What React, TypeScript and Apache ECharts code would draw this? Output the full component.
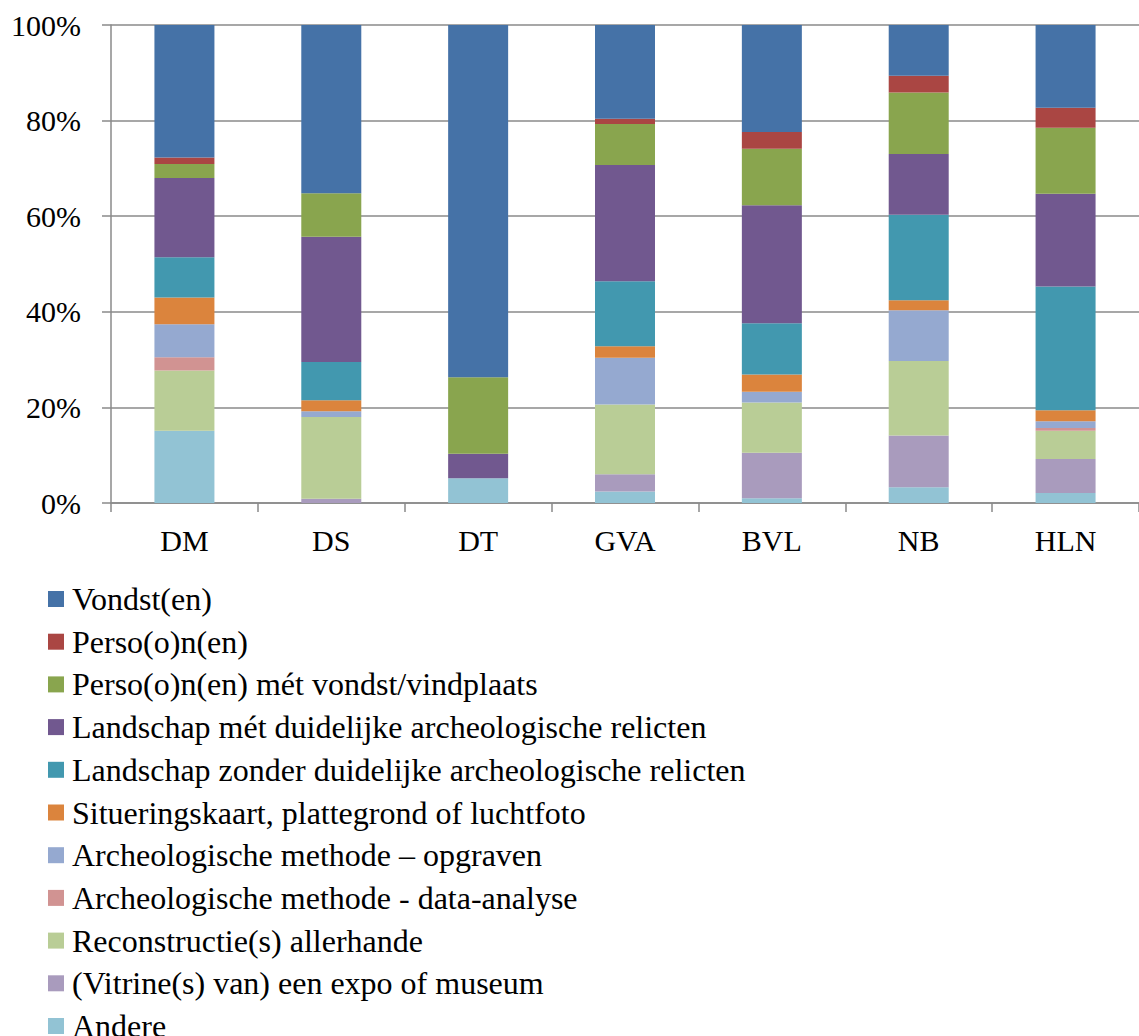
import React, { useEffect, useRef } from "react";
import * as echarts from "echarts";

const categories = ["DM", "DS", "DT", "GVA", "BVL", "NB", "HLN"];

// Stack order: bottom to top
const seriesNames = [
  "Andere",
  "(Vitrine(s) van) een expo of museum",
  "Reconstructie(s) allerhande",
  "Archeologische methode - data-analyse",
  "Archeologische methode – opgraven",
  "Situeringskaart, plattegrond of luchtfoto",
  "Landschap zonder duidelijke archeologische relicten",
  "Landschap mét duidelijke archeologische relicten",
  "Perso(o)n(en) mét vondst/vindplaats",
  "Perso(o)n(en)",
  "Vondst(en)",
];

const seriesColors = [
  "#92C3D4",
  "#A99BBD",
  "#B9CD96",
  "#D19392",
  "#95A9D0",
  "#DB843D",
  "#4298AF",
  "#71588F",
  "#89A54E",
  "#AA4643",
  "#4572A7",
];

const andere = [15.1, 0, 5.2, 2.4, 1.0, 3.3, 2.1];
const vitrine = [0, 0.9, 0, 3.6, 9.5, 10.8, 7.1];
const reconstructie = [12.6, 17.1, 0, 14.6, 10.5, 15.6, 5.9];
const dataAnalyse = [2.8, 0, 0, 0, 0, 0, 0.6];
const opgraven = [6.9, 1.2, 0, 9.8, 2.3, 10.6, 1.4];
const situering = [5.6, 2.3, 0, 2.4, 3.6, 2.1, 2.3];
const landschapZonder = [8.4, 8.0, 0, 13.6, 10.7, 17.9, 25.9];
const landschapMet = [16.6, 26.2, 5.1, 24.3, 24.7, 12.7, 19.4];
const persoonMet = [2.9, 9.1, 16.0, 8.6, 11.8, 12.9, 13.8];
const persoon = [1.4, 0, 0, 1.1, 3.5, 3.5, 4.2];
const vondst = [27.7, 35.2, 73.7, 19.6, 22.4, 10.6, 17.3];

const seriesValues = [
  andere,
  vitrine,
  reconstructie,
  dataAnalyse,
  opgraven,
  situering,
  landschapZonder,
  landschapMet,
  persoonMet,
  persoon,
  vondst,
];

const yTicks = [0, 20, 40, 60, 80, 100];

const FONT = "Liberation Serif";

export default function App() {
  const ref = useRef<HTMLDivElement>(null);

  useEffect(() => {
    if (!ref.current) return;
    const chart = echarts.init(ref.current, undefined, { renderer: "svg" });
    chart.setOption({
      animation: false,
      backgroundColor: "#ffffff",
      textStyle: { fontFamily: FONT },
      grid: { left: 111, right: 0, top: 25, bottom: 533, containLabel: false },
      xAxis: {
        type: "category",
        data: categories,
        axisLine: { show: true, lineStyle: { color: "#8a8a8a", width: 1.5 } },
        axisTick: { show: true, length: 9, lineStyle: { color: "#8a8a8a", width: 1.5 } },
        axisLabel: { color: "#000", fontFamily: FONT, fontSize: 30, margin: 22 },
      },
      yAxis: {
        type: "value",
        min: yTicks[0],
        max: yTicks[yTicks.length - 1],
        interval: 20,
        axisLine: { show: true, lineStyle: { color: "#8a8a8a", width: 1.5 } },
        axisTick: { show: true, length: 9, lineStyle: { color: "#8a8a8a", width: 1.5 } },
        splitLine: { show: true, lineStyle: { color: "#8a8a8a", width: 1.5 } },
        axisLabel: {
          color: "#000",
          fontFamily: FONT,
          fontSize: 30,
          margin: 30,
          formatter: "{value}%",
        },
      },
      legend: {
        orient: "vertical",
        left: 48,
        top: 583,
        height: 500,
        padding: 0,
        itemWidth: 16,
        itemHeight: 16,
        itemGap: 10.7,
        icon: "rect",
        data: [...seriesNames].reverse(),
        textStyle: {
          color: "#000",
          fontFamily: FONT,
          fontSize: 32,
          lineHeight: 32,
          padding: [0, 0, 0, 3],
        },
      },
      series: seriesNames.map((name, i) => ({
        name,
        type: "bar",
        stack: "total",
        barWidth: 60,
        data: seriesValues[i],
        itemStyle: { color: seriesColors[i] },
      })),
    });
    return () => chart.dispose();
  }, []);

  return (
    <div
      ref={ref}
      style={{ position: "fixed", left: 0, top: 0, width: 1139, height: 1036 }}
    />
  );
}
